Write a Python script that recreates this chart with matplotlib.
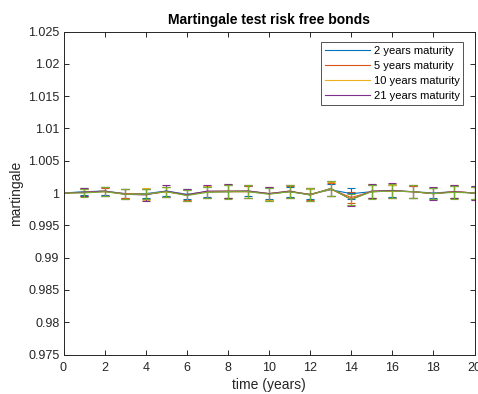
import matplotlib
matplotlib.use("Agg")
import matplotlib.pyplot as plt
import numpy as np

plt.rcParams['font.family'] = ['Liberation Sans', 'DejaVu Sans']

time_years = list(range(0, 21))

mart_2y = [1.0000, 1.0002, 1.0003, 0.9999, 0.9999, 1.0003, 0.9998, 1.0002, 1.0002, 1.0003, 0.9999,
           1.0002, 0.9998, 1.0005, 0.9999, 1.0002, 1.0003, 1.0002, 1.0000, 1.0002, 1.0000]
mart_5y = [1.0000, 1.0001, 1.0002, 0.9999, 0.9998, 1.0002, 0.9997, 1.0002, 1.0002, 1.0002, 0.9999,
           1.0002, 0.9998, 1.0006, 0.9993, 1.0002, 1.0003, 1.0002, 0.9999, 1.0002, 1.0000]
mart_10y = [1.0000, 1.0001, 1.0003, 0.9998, 0.9998, 1.0002, 0.9997, 1.0002, 1.0003, 1.0003, 0.9999,
            1.0003, 0.9997, 1.0006, 0.9991, 1.0003, 1.0003, 1.0002, 0.9999, 1.0002, 1.0000]
mart_21y = [1.0000, 1.0001, 1.0003, 0.9998, 0.9997, 1.0003, 0.9997, 1.0003, 1.0003, 1.0003, 0.9999,
            1.0003, 0.9997, 1.0007, 0.9990, 1.0003, 1.0004, 1.0002, 0.9999, 1.0002, 1.0000]
mart_30y = [1.0000, 1.0000, 1.0002, 0.9998, 0.9998, 1.0002, 0.9996, 1.0001, 1.0002, 1.0002, 0.9998,
            1.0002, 0.9997, 1.0007, 0.9990, 1.0002, 1.0003, 1.0002, 0.9999, 1.0001, 1.0000]

err_2y = [0, 0.0005, 0.0006, 0.0007, 0.0007, 0.0007, 0.0008, 0.0008, 0.0010, 0.0008, 0.0009,
          0.0008, 0.0008, 0.0009, 0.0008, 0.0010, 0.0009, 0.0009, 0.0008, 0.0009, 0.0009]
err_5y = [0, 0.0005, 0.0006, 0.0007, 0.0008, 0.0008, 0.0008, 0.0009, 0.0010, 0.0009, 0.0010,
          0.0009, 0.0009, 0.0010, 0.0008, 0.0010, 0.0010, 0.0009, 0.0008, 0.0009, 0.0010]
err_10y = [0, 0.0006, 0.0007, 0.0008, 0.0009, 0.0008, 0.0009, 0.0009, 0.0011, 0.0010, 0.0010,
           0.0010, 0.0009, 0.0011, 0.0009, 0.0011, 0.0010, 0.0010, 0.0009, 0.0010, 0.0011]
err_21y = [0, 0.0006, 0.0007, 0.0008, 0.0009, 0.0009, 0.0009, 0.0010, 0.0011, 0.0010, 0.0011,
           0.0010, 0.0010, 0.0011, 0.0010, 0.0011, 0.0011, 0.0010, 0.0010, 0.0010, 0.0011]
err_30y = [0, 0.0006, 0.0007, 0.0008, 0.0008, 0.0008, 0.0009, 0.0009, 0.0011, 0.0010, 0.0010,
           0.0010, 0.0010, 0.0011, 0.0009, 0.0011, 0.0011, 0.0010, 0.0009, 0.0010, 0.0010]

labels = ['2 years maturity', '5 years maturity', '10 years maturity', '21 years maturity', None]
colors = ['#0072BD', '#D95319', '#EDB120', '#7E2F8E', '#77AC30']

values = [mart_2y, mart_5y, mart_10y, mart_21y, mart_30y]
errors = [err_2y, err_5y, err_10y, err_21y, err_30y]

fig = plt.figure(figsize=(4.78, 3.94), dpi=100)
ax = fig.add_axes([63.5 / 478, 1 - 354.5 / 394, (474.5 - 63.5) / 478, (354.5 - 31.5) / 394])

handles = []
for v, e, c, lab in zip(values, errors, colors, labels):
    eb = ax.errorbar(time_years, v, yerr=e, color=c, lw=0.8, elinewidth=0.8,
                     capsize=3.2, capthick=0.8, errorevery=(1, 1), label=lab)
    if lab is not None:
        handles.append(eb.lines[0])

ax.set_xlim(0, 20)
ax.set_ylim(0.975, 1.025)
ax.set_xticks(np.arange(0, 21, 2))
ax.set_yticks(np.arange(0.975, 1.0251, 0.005))
ax.set_yticklabels(['0.975', '0.98', '0.985', '0.99', '0.995', '1',
                    '1.005', '1.01', '1.015', '1.02', '1.025'])

axis_col = '#262626'
for sp in ax.spines.values():
    sp.set_color(axis_col)
    sp.set_linewidth(0.7)
ax.tick_params(direction='in', length=3.5, width=0.7, color=axis_col,
               labelcolor=axis_col, labelsize=9, top=True, right=True)
ax.tick_params(axis='x', pad=5.5)
ax.tick_params(axis='y', pad=3)

ax.set_xlabel('time (years)', fontsize=10, color=axis_col, labelpad=3)
ax.set_ylabel('martingale', fontsize=10, color=axis_col, labelpad=3.5)
ax.set_title('Martingale test risk free bonds', fontsize=10, fontweight='bold',
             color='black', pad=5.5)

leg = ax.legend(handles=handles, labels=[l for l in labels if l], loc='upper right',
                bbox_to_anchor=(0.973, 0.967), fontsize=8, frameon=True, fancybox=False,
                edgecolor=axis_col, handlelength=4.0, handletextpad=0.35,
                borderpad=0.35, labelspacing=0.45, borderaxespad=0)
leg.get_frame().set_linewidth(0.7)

fig.savefig('out.png', dpi=100)
